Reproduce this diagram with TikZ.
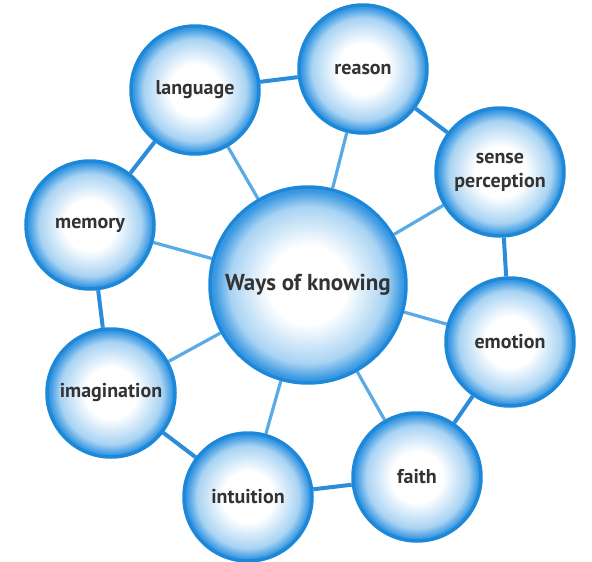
\documentclass[tikz,border=0pt]{standalone}
\usepackage{fontspec}
\setmainfont{PT Sans}
\usetikzlibrary{backgrounds}
\definecolor{ballout}{HTML}{3A98E2}
\definecolor{ballmid}{HTML}{A8D3F3}
\definecolor{ringcol}{HTML}{2A8CDA}
\definecolor{spokecol}{HTML}{5AAAE6}
\definecolor{bordercol}{HTML}{1E88D8}
\definecolor{txt}{HTML}{333333}
\pgfdeclareradialshading{ball}{\pgfpoint{0bp}{0bp}}{color(0bp)=(white); color(10bp)=(white); color(20bp)=(ballmid); color(24bp)=(ballout); color(25bp)=(ballout); color(50bp)=(ballout)}
\tikzset{
  ballnode/.style={circle, draw=bordercol, line width=3.5pt, shading=ball, minimum size=128pt, inner sep=0pt, align=center, text=txt, font=\bfseries\fontsize{20}{24}\selectfont},
  bignode/.style={ballnode, minimum size=196pt, font=\bfseries\fontsize{23}{26}\selectfont},
  ringline/.style={draw=ringcol, line width=4pt},
  spokeline/.style={draw=spokecol, line width=3.2pt}
}
\begin{document}
\begin{tikzpicture}[x=1pt,y=-1pt]
\useasboundingbox (0,0) rectangle (592,562);
\node[bignode] (c) at (308,285) {Ways of knowing};
\node[ballnode] (lang) at (195,90) {language};
\node[ballnode] (reas) at (363,69) {reason};
\node[ballnode] (sens) at (500,172) {sense\\perception};
\node[ballnode] (emot) at (510,342) {emotion};
\node[ballnode] (fait) at (417,477) {faith};
\node[ballnode] (intu) at (248,497) {intuition};
\node[ballnode] (imag) at (111,393) {imagination};
\node[ballnode] (memo) at (90,225) {memory};
\begin{scope}[on background layer]
  \foreach \n in {lang,reas,sens,emot,fait,intu,imag,memo}
    \draw[spokeline] (c) -- (\n);
  \draw[ringline] (lang) -- (reas) -- (sens) -- (emot) -- (fait) -- (intu) -- (imag) -- (memo) -- (lang);
\end{scope}
\end{tikzpicture}
\end{document}
